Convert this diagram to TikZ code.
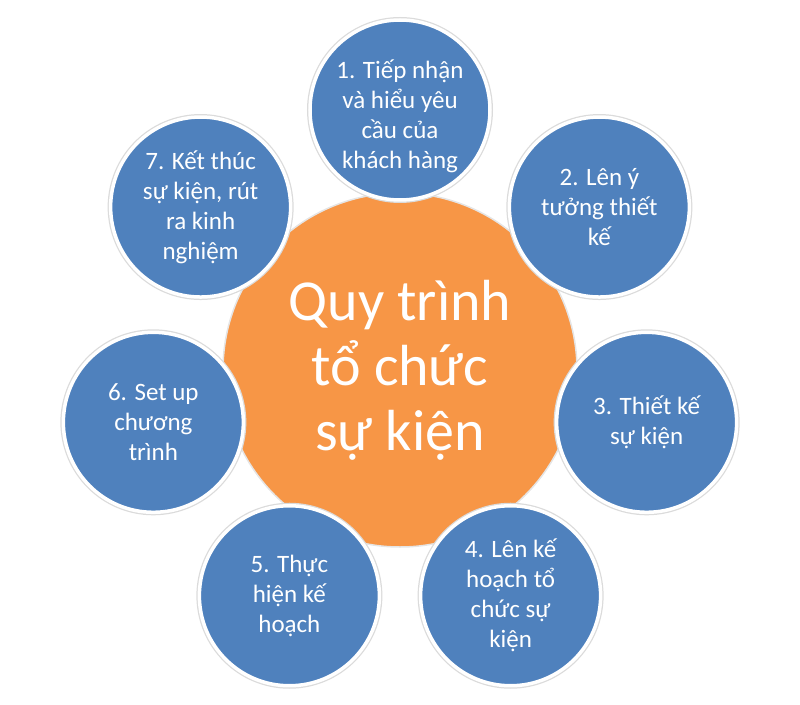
\documentclass[tikz,border=0pt]{standalone}
\usepackage{fontspec}
\setmainfont{Carlito}
\definecolor{stepblue}{RGB}{79,129,189}
\definecolor{huborange}{RGB}{247,150,70}

\begin{document}
\begin{tikzpicture}[x=1pt, y=1pt,
    bubble/.style={circle, fill=stepblue, draw=white, line width=3.5pt,
      preaction={draw=black!14, line width=6pt},
      minimum size=180pt, inner sep=0pt},
    btext/.style={text=white, align=center, font=\fontsize{25}{30}\selectfont}]
  \useasboundingbox (-400, -338) rectangle (400, 366);

  % Centre
  \node[circle, fill=huborange, draw=black!10, line width=1.5pt, minimum size=354pt,
    text=white, align=center, font=\fontsize{58}{65}\selectfont] (hub) at (0, -4)
    {Quy trình\\tổ chức\\sự kiện};

  % Steps
  \node[bubble, label={[btext, yshift=-6pt]center:{1. Tiếp nhận\\và hiểu yêu\\cầu của\\khách hàng}}] (s1) at (90:256) {};
  \node[bubble, label={[btext]center:{2. Lên ý\\tưởng thiết\\kế}}] (s2) at (38.57:255) {};
  \node[bubble, label={[btext]center:{3. Thiết kế\\sự kiện}}] (s3) at (-12.86:253) {};
  \node[bubble, label={[btext]center:{4. Lên kế\\hoạch tổ\\chức sự\\kiện}}] (s4) at (-64.29:255) {};
  \node[bubble, label={[btext]center:{5. Thực\\hiện kế\\hoạch}}] (s5) at (-115.71:255) {};
  \node[bubble, label={[btext]center:{6. Set up\\chương\\trình}}] (s6) at (-167.14:253) {};
  \node[bubble, label={[btext]center:{7. Kết thúc\\sự kiện, rút\\ra kinh\\nghiệm}}] (s7) at (141.43:255) {};
\end{tikzpicture}
\end{document}
